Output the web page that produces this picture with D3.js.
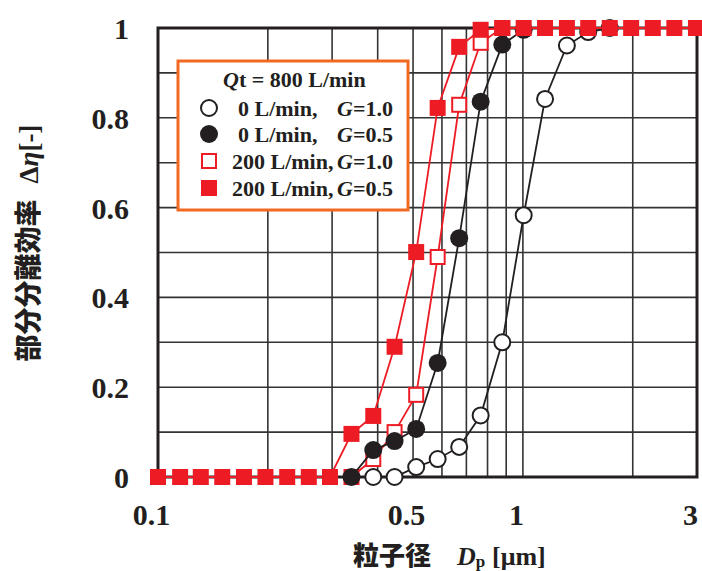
<!DOCTYPE html>
<html><head><meta charset="utf-8">
<script src="https://cdn.jsdelivr.net/npm/d3@7"></script>
<style>body{margin:0;background:#fff}svg{display:block}</style>
</head><body>
<svg id="c" width="702" height="571"></svg>
<script>
// particle size bins [µm]
const sizes = [0.1, 0.115, 0.131, 0.150, 0.172, 0.197, 0.226, 0.259, 0.296, 0.339, 0.389, 0.445, 0.510, 0.584, 0.669, 0.766, 0.878, 1.005, 1.15, 1.32, 1.51, 1.73, 1.98, 2.27, 2.60, 2.98];
// partial separation efficiency (null = not plotted)
const open0G10   = [null,null,null,null,null,null,null,null,null,null, 0, 0, 0.022, 0.04, 0.067, 0.137, 0.30, 0.583, 0.842, 0.961, 0.991, 1, null,null,null,null];
const fill0G05   = [null,null,null,null,null,null,null,null,null, 0, 0.06, 0.08, 0.107, 0.254, 0.532, 0.836, 0.963, 0.996, null,null,null,null,null,null,null,null];
const open200G10 = [null,null,null,null,null,null,null,null,null, 0, 0.04, 0.10, 0.183, 0.49, 0.829, 0.967, 1.0, null,null,null,null,null,null,null,null,null];
const fill200G05 = [0,0,0,0,0,0,0,0,0, 0.096, 0.136, 0.29, 0.501, 0.822, 0.958, 0.996, 1,1,1,1,1,1,1,1,1,1];
const xTicks = [0.1, 0.5, 1, 3];
const xGrid = [0.2,0.3,0.4,0.5,0.6,0.7,0.8,0.9,1,2];
const yTicks = [0, 0.2, 0.4, 0.6, 0.8, 1];
const yTickLabels = ["0","0.2","0.4","0.6","0.8","1"];
const yGrid = [0.1,0.2,0.3,0.4,0.5,0.6,0.7,0.8,0.9];
const legendTitle = "t = 800 L/min";
const legendRows = [
  {a:"0 L/min,", g:"=1.0"},
  {a:"0 L/min,", g:"=0.5"},
  {a:"200 L/min,", g:"=1.0"},
  {a:"200 L/min,", g:"=0.5"}
];

const RED = "#ED1C24", BLK = "#231F20", ORANGE = "#F26A21";
const L = 158, R = 697, T = 28, B = 477;
const svg = d3.select("#c");
const x = d3.scaleLog().domain([0.1, 3]).range([L, R]);
const y = d3.scaleLinear().domain([0, 1]).range([B, T]);
const serif = "'Liberation Serif','Times New Roman',serif";
const cjk = "'Noto Sans CJK JP','Noto Sans CJK SC',sans-serif";

// grid
svg.append("g").selectAll("line").data(yGrid).join("line")
  .attr("x1", L).attr("x2", R).attr("y1", d=>y(d)).attr("y2", d=>y(d))
  .attr("stroke", "#333").attr("stroke-width", 1.6);
svg.append("g").selectAll("line").data(xGrid).join("line")
  .attr("y1", T).attr("y2", B).attr("x1", d=>x(d)).attr("x2", d=>x(d))
  .attr("stroke", "#333").attr("stroke-width", 1.6);

// legend box
const lg = svg.append("g");
lg.append("rect").attr("x", 178).attr("y", 61).attr("width", 230).attr("height", 149)
  .attr("fill", "#fff").attr("stroke", ORANGE).attr("stroke-width", 3);

// frame
svg.append("rect").attr("x", L).attr("y", T).attr("width", R-L).attr("height", B-T)
  .attr("fill", "none").attr("stroke", BLK).attr("stroke-width", 3);

// axes ticks labels
const xAxis = d3.axisBottom(x).tickValues(xTicks).tickFormat(d=>String(d)).tickSize(0).tickPadding(0);
const gx = svg.append("g").attr("transform", `translate(-7,${B})`).call(xAxis);
gx.select(".domain").remove();
gx.selectAll("text").attr("y", 48).attr("dy", null)
  .attr("font-family", serif).attr("font-weight", "bold").attr("font-size", 30).attr("fill", BLK);

const yAxis = d3.axisLeft(y).tickValues(yTicks).tickFormat((d,i)=>yTickLabels[i]).tickSize(0).tickPadding(0);
const gy = svg.append("g").attr("transform", `translate(129,0)`).call(yAxis);
gy.select(".domain").remove();
gy.selectAll("text").attr("x", 0).attr("dy", "0.35em")
  .attr("font-family", serif).attr("font-weight", "bold").attr("font-size", 30).attr("fill", BLK);

// axis titles
const xt = svg.append("text").attr("y", 565).attr("fill", BLK);
xt.append("tspan").attr("x", 353).attr("font-family", cjk).attr("font-weight", 900).attr("font-size", 26).text("粒子径");
xt.append("tspan").attr("x", 457).attr("font-family", serif).attr("font-weight", "bold").attr("font-style", "italic").attr("font-size", 26).text("D");
xt.append("tspan").attr("font-family", serif).attr("font-weight", "bold").attr("font-size", 17).attr("dy", 2).text("p");
xt.append("tspan").attr("x", 492).attr("dy", -2).attr("font-family", serif).attr("font-weight", "bold").attr("font-size", 26).text("[μm]");

const yt = svg.append("text").attr("transform", "translate(38,243) rotate(-90)")
  .attr("text-anchor", "middle").attr("fill", BLK);
yt.append("tspan").attr("font-family", cjk).attr("font-weight", 900).attr("font-size", 27).text("部分分離効率");
yt.append("tspan").attr("font-family", serif).attr("font-weight", "bold").attr("font-size", 27).attr("dx", 16).text("Δ");
yt.append("tspan").attr("font-family", serif).attr("font-weight", "bold").attr("font-style", "italic").attr("font-size", 27).text("η");
yt.append("tspan").attr("font-family", serif).attr("font-weight", "bold").attr("font-size", 27).text("[-]");

// legend content
const lt = lg.append("text").attr("x", 223).attr("y", 87).attr("font-family", serif)
  .attr("font-weight", "bold").attr("font-size", 22).attr("fill", BLK);
lt.append("tspan").attr("font-style", "italic").text("Q");
lt.append("tspan").text(legendTitle);
const rowY = [108, 134, 161, 188];
legendRows.forEach((r, i) => {
  const t = lg.append("text").attr("y", rowY[i] + 8).attr("font-family", serif)
    .attr("font-weight", "bold").attr("font-size", 22).attr("fill", BLK);
  t.append("tspan").attr("x", i < 2 ? 238 : 232).text(r.a);
  t.append("tspan").attr("x", 337).attr("font-style", "italic").text("G");
  t.append("tspan").text(r.g);
});
lg.append("circle").attr("cx", 209).attr("cy", rowY[0]).attr("r", 8).attr("fill", "#fff").attr("stroke", BLK).attr("stroke-width", 2);
lg.append("circle").attr("cx", 209).attr("cy", rowY[1]).attr("r", 9).attr("fill", BLK);
lg.append("rect").attr("x", 202).attr("y", rowY[2]-7).attr("width", 14).attr("height", 14).attr("fill", "#fff").attr("stroke", RED).attr("stroke-width", 2);
lg.append("rect").attr("x", 201).attr("y", rowY[3]-8).attr("width", 16).attr("height", 16).attr("fill", RED);

// series
const line = d3.line().defined(d => d[1] !== null).x(d => x(d[0])).y(d => y(d[1]));
function pts(vals){ return sizes.map((s,i)=>[s, vals[i]]); }
function drawSeries(vals, color, kind){
  const p = pts(vals);
  const g = svg.append("g");
  g.append("path").datum(p).attr("d", line).attr("fill", "none").attr("stroke", color).attr("stroke-width", 1.8);
  const dd = p.filter(d => d[1] !== null);
  if (kind === "openCircle") {
    g.selectAll("circle").data(dd).join("circle").attr("cx", d=>x(d[0])).attr("cy", d=>y(d[1]))
      .attr("r", 8).attr("fill", "#fff").attr("stroke", BLK).attr("stroke-width", 2);
  } else if (kind === "fillCircle") {
    g.selectAll("circle").data(dd).join("circle").attr("cx", d=>x(d[0])).attr("cy", d=>y(d[1]))
      .attr("r", 9).attr("fill", BLK);
  } else if (kind === "openSquare") {
    g.selectAll("rect").data(dd).join("rect").attr("x", d=>x(d[0])-7).attr("y", d=>y(d[1])-7)
      .attr("width", 14).attr("height", 14).attr("fill", "#fff").attr("stroke", RED).attr("stroke-width", 2);
  } else {
    g.selectAll("rect").data(dd).join("rect").attr("x", d=>x(d[0])-8).attr("y", d=>y(d[1])-8)
      .attr("width", 16).attr("height", 16).attr("fill", RED);
  }
}
drawSeries(open0G10, BLK, "openCircle");
drawSeries(open200G10, RED, "openSquare");
drawSeries(fill0G05, BLK, "fillCircle");
drawSeries(fill200G05, RED, "fillSquare");
</script>
</body></html>
